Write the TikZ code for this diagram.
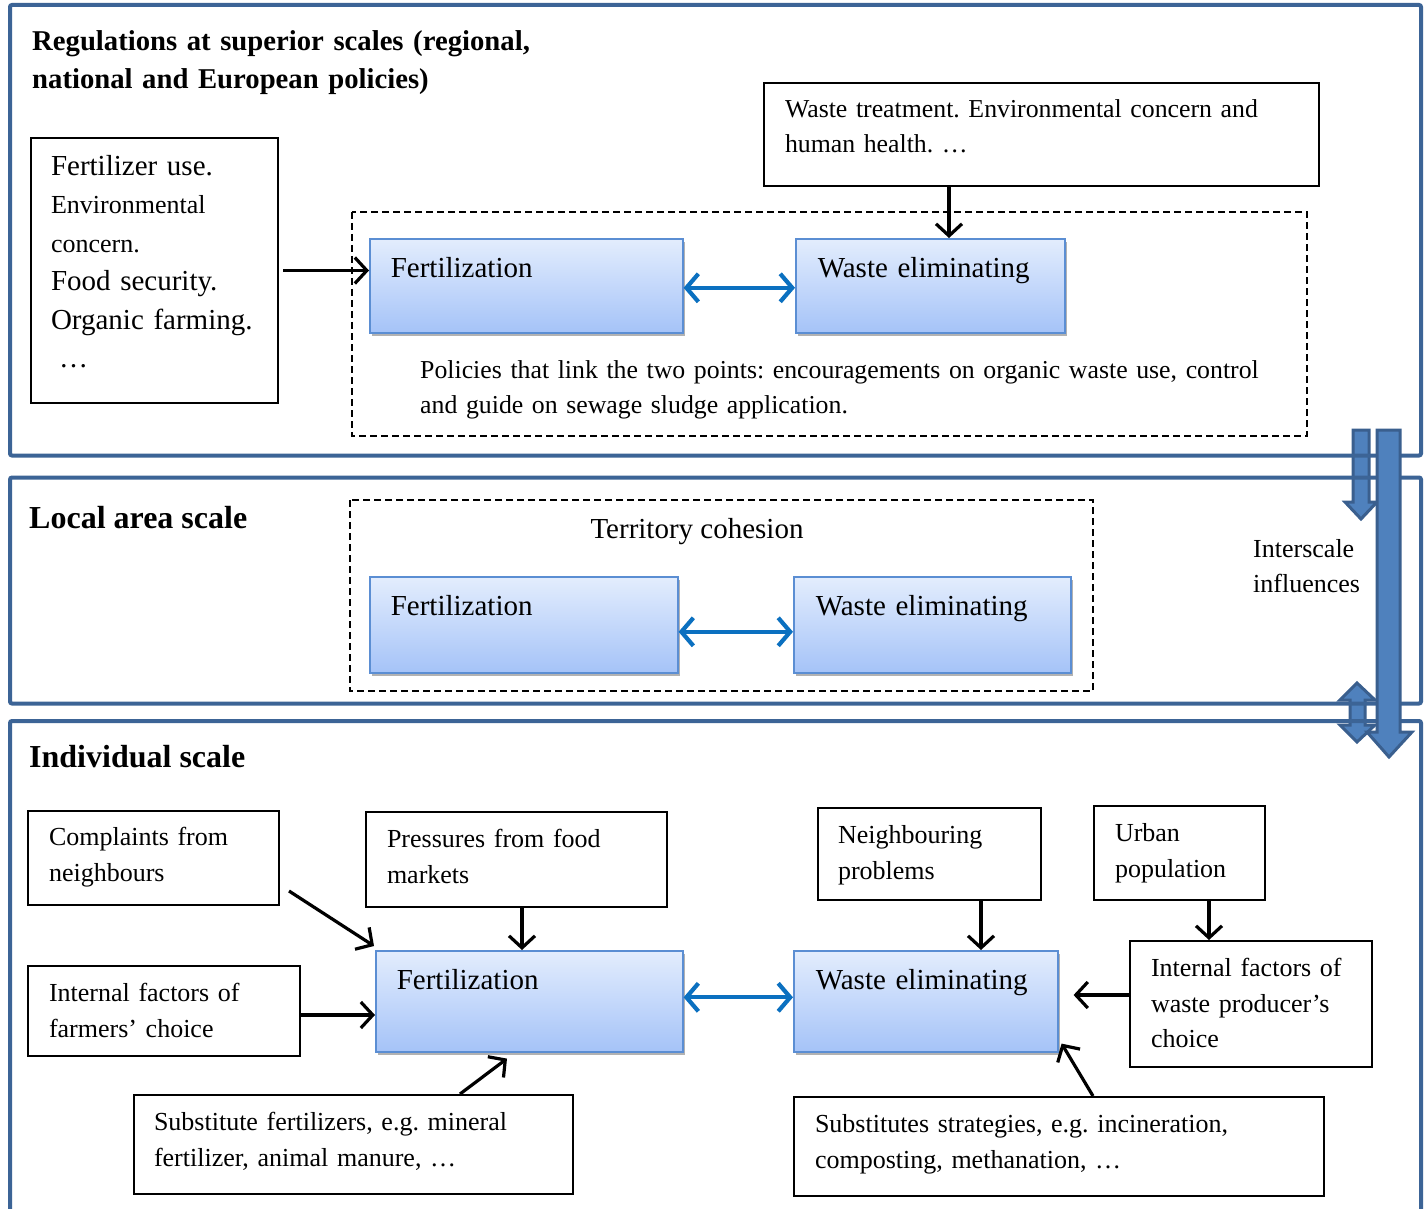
\documentclass[tikz,border=0pt]{standalone}
\usepackage{fontspec}
\setmainfont{Liberation Serif}
\usetikzlibrary{arrows.meta,shadows,calc}
\definecolor{panel}{HTML}{3C6496}
\definecolor{afill}{HTML}{4F81BD}
\definecolor{aline}{HTML}{3A5F8E}
\definecolor{bluearr}{HTML}{0B70C0}
\definecolor{btop}{HTML}{E3EDFD}
\definecolor{bbot}{HTML}{A5C3F8}
\definecolor{bborder}{HTML}{5B8ED3}
\newcommand\myfa{\fontsize{26}{35.5}\selectfont}
\newcommand\myfb{\fontsize{29}{38.5}\selectfont}
\newcommand\myfc{\fontsize{25.8}{35}\selectfont}
\newcommand\myfd{\fontsize{32}{38}\selectfont}
\frenchspacing
\begin{document}
\frenchspacing
\begin{tikzpicture}[x=1pt,y=-1pt,
 panelbox/.style={draw=panel,line width=4pt,rounded corners=2pt},
 dashbox/.style={draw=black,line width=1.8pt,dash pattern=on 7pt off 4pt},
 tbox/.style={draw=black,line width=2pt,rectangle,anchor=north west,inner xsep=21pt,inner ysep=0pt,align=left,font=\myfa,text height=35.5pt},
 bbox/.style={rectangle,anchor=north west,draw=bborder,line width=1.6pt,top color=btop,bottom color=bbot,
   drop shadow={shadow xshift=2pt,shadow yshift=-3pt,fill=black,opacity=0.3},
   inner xsep=21pt,inner ysep=0pt,align=left,font=\myfb,text height=38.5pt},
 plain/.style={inner sep=0pt,align=left},
 arr/.style={draw=black,line width=3.2pt,-{Straight Barb[length=12pt,width=26pt]}},
 barr/.style={draw=bluearr,line width=4.2pt,{Straight Barb[length=12pt,width=28pt]}-{Straight Barb[length=12pt,width=28pt]}},
 bigarr/.style={fill=afill,draw=aline,line width=3pt,line join=miter},
]
\useasboundingbox (0,0) rectangle (1428,1209);
\fill[white] (0,0) rectangle (1428,1209);

% small interscale arrows (behind panels)
\draw[bigarr] (1353,430) -- (1369,430) -- (1369,502) -- (1377,502) -- (1361,519) -- (1345,502) -- (1353,502) -- cycle;
\draw[bigarr] (1357,683) -- (1375,700) -- (1365,700) -- (1365,725) -- (1375,725) -- (1357,742) -- (1340,725) -- (1350,725) -- (1350,700) -- (1340,700) -- cycle;

% panels
\draw[panelbox] (10,5) rectangle (1421,455.5);
\draw[panelbox] (10,477.5) rectangle (1421,703.5);
\draw[panelbox] (10,721) rectangle (1421,1230);

% big interscale arrow
\draw[bigarr] (1377,430) -- (1400,430) -- (1400,732) -- (1412,732) -- (1389,757) -- (1367,732) -- (1377,732) -- cycle;

% ---------- top panel ----------
\node[plain,anchor=base west,text width=620pt,font=\bfseries\fontsize{28.7}{38.5}\selectfont] (h1) at (32,50.5)
  {Regulations at superior scales (regional,\\ national and European policies)};

\draw[dashbox] (352,212) rectangle (1307,436);

\node[tbox,font=\myfc,text width=513pt,text depth=68pt,text height=35pt] (tb1) at (763,82)
  {Waste treatment. Environmental concern and\\ human health. …};

\node[tbox,font=\myfb,inner xsep=20pt,text width=207pt,text height=37.5pt,text depth=227.5pt] (lb) at (30,137)
  {Fertilizer use.\\ \fontsize{26}{38.5}\selectfont Environmental\\ concern.\\ \fontsize{29}{38.5}\selectfont Food security.\\ Organic farming.\\ \hspace*{8pt}…};

\node[bbox,text width=271pt,text depth=55.5pt] (f1) at (369,238) {Fertilization};
\node[bbox,inner xsep=22pt,text width=225pt,text depth=55.5pt] (w1) at (795,238) {Waste eliminating};

\node[plain,anchor=base west,text width=880pt,font=\myfc] (pol) at (420,378.5)
  {Policies that link the two points: encouragements on organic waste use, control\\ and guide on sewage sludge application.};

\draw[arr,shorten <=4pt] (lb.east) -- (lb.east -| f1.west);
\draw[arr] ([xshift=-92.5pt]tb1.south) -- ([xshift=-92.5pt]tb1.south |- w1.north);
\draw[barr] ([yshift=-2pt]f1.east) -- ([yshift=-2pt]f1.east -| w1.west);

% ---------- middle panel ----------
\node[plain,anchor=base west,font=\bfseries\myfd] (h2) at (29,528.5) {Local area scale};
\draw[dashbox] (350,500) rectangle (1093,691);
\node[plain,anchor=base,font=\myfb] (tc) at (697,538.5) {Territory cohesion};
\node[bbox,text width=266pt,text depth=57.5pt] (f2) at (369,576) {Fertilization};
\node[bbox,inner xsep=22pt,text width=233pt,text depth=57.5pt] (w2) at (793,576) {Waste eliminating};
\draw[barr] ([yshift=-7pt]f2.east) -- ([yshift=-7pt]f2.east -| w2.west);
\node[plain,anchor=base west,text width=160pt,font=\fontsize{26}{35}\selectfont] (isc) at (1253,557.5)
  {Interscale\\ influences};

% ---------- bottom panel ----------
\node[plain,anchor=base west,font=\bfseries\myfd] (h3) at (29,767.5) {Individual scale};

\node[tbox,text width=209pt,text height=34.5pt,text depth=59.5pt] (cb) at (27,810)
  {Complaints from\\ neighbours};
\node[tbox,text width=259pt,text depth=59.5pt] (pb) at (365,811)
  {Pressures from food\\ markets};
\node[tbox,inner xsep=20pt,text width=183pt,text depth=56.5pt] (nb) at (817,807)
  {Neighbouring\\ problems};
\node[tbox,text width=129pt,text depth=58.5pt] (ub) at (1093,805)
  {Urban\\ population};
\node[tbox,text width=230pt,text depth=54.5pt] (ib) at (27,965)
  {Internal factors of\\ farmers’ choice};
\node[tbox,text width=200pt,text depth=90.5pt] (iw) at (1129,940)
  {Internal factors of\\ waste producer’s\\ choice};
\node[tbox,inner xsep=20pt,text width=399pt,text depth=63.5pt] (sf) at (133,1094)
  {Substitute fertilizers, e.g. mineral\\ fertilizer, animal manure, …};
\node[tbox,text width=488pt,text depth=63.5pt] (ss) at (793,1096)
  {Substitutes strategies, e.g. incineration,\\ composting, methanation, …};

\node[bbox,text width=265pt,text depth=62.5pt] (f3) at (375,950) {Fertilization};
\node[bbox,inner xsep=22pt,text width=220pt,text depth=62.5pt] (w3) at (793,950) {Waste eliminating};

\draw[arr] ([xshift=9pt,yshift=15pt]cb.south east) -- ([shift={(-1pt,4pt)}]f3.north west);
\draw[arr] ([xshift=5.5pt]pb.south) -- ([xshift=5.5pt]pb.south |- f3.north);
\draw[arr] ([yshift=-4pt]ib.east) -- ([yshift=-4pt]ib.east -| f3.west);
\draw[arr] ([xshift=327pt]sf.north west) -- ([xshift=132pt,yshift=-6pt]f3.south west);
\draw[barr] ([yshift=4pt]f3.east) -- ([yshift=4pt]f3.east -| w3.west);
\draw[arr] ([xshift=51.5pt]nb.south) -- ([xshift=51.5pt]nb.south |- w3.north);
\draw[arr] ([xshift=29.5pt]ub.south) -- ([xshift=29.5pt]ub.south |- iw.north);
\draw[arr,shorten >=15pt] ([yshift=9pt]iw.west) -- ([yshift=9pt]iw.west -| w3.east);
\draw[arr] ([xshift=300pt]ss.north west) -- ([xshift=3pt,yshift=9pt]w3.south east);
\end{tikzpicture}
\end{document}
